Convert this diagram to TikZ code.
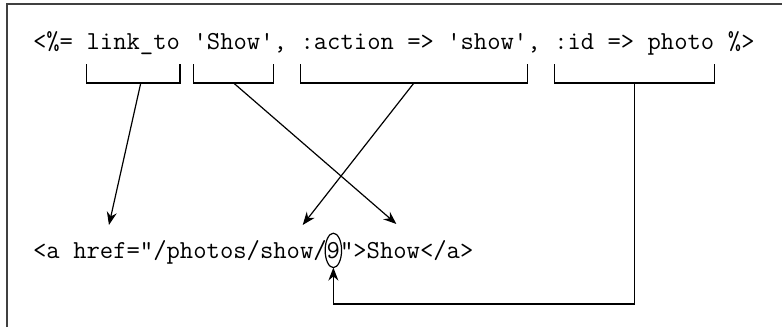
\documentclass[tikz,border=0pt]{standalone}
\usetikzlibrary{positioning,arrows.meta}

% width of one character cell of the code font
\newcommand{\chw}{6.8pt}

\begin{document}
\begin{tikzpicture}[x=0.5pt, y=-0.5pt,
  code/.style={inner sep=0pt, outer sep=0pt, anchor=base west,
    font=\ttfamily\fontsize{12.95pt}{15pt}\selectfont},
  bracket/.style={semithick},
  arr/.style={semithick, -{Stealth[length=6.5pt, width=5pt]}}]

  \useasboundingbox (0,0) rectangle (782,327);

  % ---- frame (only top and left edges are visible) ----
  \draw[line width=1pt, black!75] (7,327) -- (7,4) -- (782,4);

  % ---- erb source line ----
  \node[code] (open) at (33,49) {<\%=};
  \node[code, base right=\chw of open] (fn) {link\_to};
  \node[code, base right=\chw of fn] (label) {\textquotesingle Show\textquotesingle};
  \node[code, base right=0pt of label] (comma1) {,};
  \node[code, base right=\chw of comma1] (act) {:action => \textquotesingle show\textquotesingle};
  \node[code, base right=0pt of act] (comma2) {,};
  \node[code, base right=\chw of comma2] (idp) {:id => photo};
  \node[code, base right=\chw of idp] (close) {\%>};

  % brackets under the arguments, with a start point on each
  \foreach \n/\p in {fn/0.58, label/0.5, act/0.5, idp/0.5}
    \draw[bracket] ([yshift=-7.5pt]\n.base west) -- ([yshift=-17pt]\n.base west)
      -- coordinate[pos=\p] (\n-m) ([yshift=-17pt]\n.base east)
      -- ([yshift=-7.5pt]\n.base east);

  % ---- generated html line ----
  \node[code] (tagopen) at (33,258) {<a};
  \node[code, base right=\chw of tagopen] (href) {href};
  \node[code, base right=0pt of href] (path) {=\textquotedbl/photos/};
  \node[code, base right=0pt of path] (showurl) {show};
  \node[code, base right=0pt of showurl] (slash) {/};
  \node[code, base right=0pt of slash] (nine) {9};
  \node[code, base right=0pt of nine] (tagclose) {\textquotedbl>};
  \node[code, base right=0pt of tagclose] (linktext) {Show};
  \node[code, base right=0pt of linktext] (endtag) {</a>};

  % ring round the id
  \draw[semithick] ([yshift=3.8pt]nine.base) ellipse [x radius=4.1pt, y radius=8.6pt];
  \coordinate (nine-s) at ([yshift=-4.8pt]nine.base);

  % ---- arrows ----
  \draw[arr] (fn-m) -- ([xshift=4.5pt, yshift=16.5pt]href.base);
  \draw[arr] (label-m) -- ([xshift=1.5pt, yshift=17pt]linktext.base);
  \draw[arr] (act-m) -- ([xshift=8pt, yshift=16.5pt]showurl.base);
  \draw[arr] (idp-m) |- ([yshift=-18.2pt]nine-s) -- (nine-s);

\end{tikzpicture}
\end{document}
